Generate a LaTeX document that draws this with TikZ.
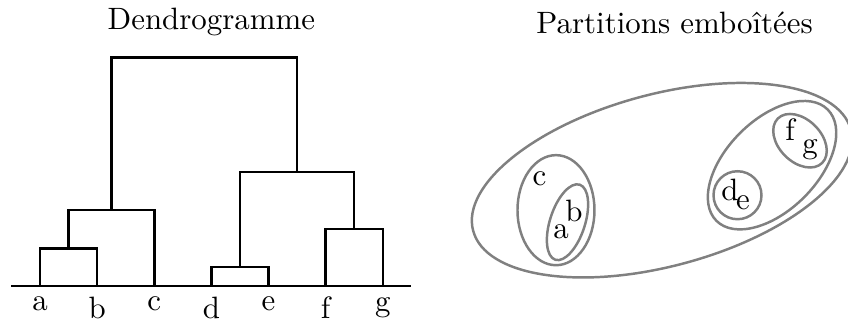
\documentclass[tikz,border=0pt]{standalone}
\usepackage{tikz}
\usetikzlibrary{positioning,calc}

\begin{document}
\begin{tikzpicture}[
    branch/.style={
      draw=black,
      thick
    },
    group/.style={
      draw=gray,
      thick
    },
    leaflab/.style={
      below
    },
    title/.style={
      anchor=base
    }
  ]

  \useasboundingbox (-0.455,-0.385) rectangle (9.192,3.256);

  % Titles
  \node[title] (t1) at (1.95,2.92) {Dendrogramme};
  \node[title] (t2) at (7.22,2.88) {Partitions emboîtées};

  % Leaves
  \foreach \n [count=\i from 0] in {a,b,c,d,e,f,g} {
    \coordinate (\n) at (\i*0.65,0);
    \node[leaflab] (lab-\n) at (\n) {\n};
  }
  \coordinate (base-l) at (-0.325,0);
  \coordinate (base-r) at (4.225,0);

  % Junctions
  \coordinate (ab) at (0.325,0.43);
  \coordinate (abc) at (0.8125,0.87);
  \coordinate (de) at (2.275,0.22);
  \coordinate (fg) at (3.575,0.65);
  \coordinate (defg) at (2.925,1.30);
  \coordinate (root) at (1.869,2.60);

  % Dendrogram
  \draw[branch] (base-l) -- (base-r);
  \draw[branch] (a) |- (ab) -| (b);
  \draw[branch] (ab) |- (abc) -| (c);
  \draw[branch] (d) |- (de) -| (e);
  \draw[branch] (f) |- (fg) -| (g);
  \draw[branch] (de) |- (defg) -| (fg);
  \draw[branch] (abc) |- (root) -| (defg);

  % Nested partitions
  \draw[group, shift={(7.076,1.206)}, rotate=15] (0,0) ellipse (2.224 and 0.978);
  \draw[group] (5.870,0.865) ellipse (0.438 and 0.626);
  \draw[group, shift={(6.001,0.728)}, rotate=72] (0,0) ellipse (0.449 and 0.199);
  \draw[group, shift={(8.328,1.377)}, rotate=45] (0,0) ellipse (0.895 and 0.516);
  \draw[group, shift={(8.646,1.655)}, rotate=-45] (0,0) ellipse (0.357 and 0.241);
  \draw[group] (7.935,1.035) circle (0.273);

  % Elements
  \node (pc) at (5.683,1.217) {c};
  \node (pb) at (6.075,0.853) {b};
  \node (pa) at (5.927,0.614) {a};
  \node (pd) at (7.850,1.092) {d};
  \node (pe) at (7.998,0.944) {e};
  \node (pf) at (8.532,1.786) {f};
  \node (pg) at (8.760,1.553) {g};

\end{tikzpicture}
\end{document}
